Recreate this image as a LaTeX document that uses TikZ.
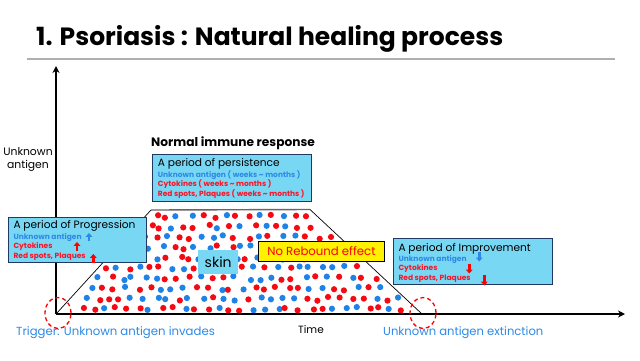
\documentclass[tikz,border=0pt]{standalone}
\usepackage{fontspec}
\setmainfont{Poppins}
\usetikzlibrary{arrows.meta,shapes.geometric}
\definecolor{boxfill}{RGB}{120,216,244}
\definecolor{boxline}{RGB}{31,56,100}
\definecolor{tblue}{RGB}{45,137,230}
\definecolor{tred}{RGB}{250,20,40}
\definecolor{dred}{RGB}{245,10,20}
\definecolor{dblue}{RGB}{30,130,230}
\definecolor{rulegray}{RGB}{175,175,175}
\begin{document}
\begin{tikzpicture}[x=1pt,y=-1pt,
  box/.style={draw=boxline, line width=1.1pt, fill=boxfill, inner sep=0pt, anchor=north west},
  lbl/.style={inner sep=0pt, anchor=base west},
  boxtitle/.style={lbl, font=\fontsize{10.6}{12}\selectfont},
  boxline/.style={lbl, font=\fontsize{7.5}{9}\selectfont\bfseries},
  uparr/.style={line width=2.4pt, -{Triangle[width=6.5pt,length=3.8pt]}},
  axis/.style={line width=1.8pt, -{Stealth[length=7pt,width=7pt]}},
  ring/.style={ellipse, draw=red, dashed, dash pattern=on 4pt off 3pt, line width=1.3pt, minimum width=26pt, minimum height=31pt, inner sep=0pt}]
\useasboundingbox (0,0) rectangle (640,360);
\fill[white] (0,0) rectangle (640,360);
% title
\node[lbl, font=\fontsize{25}{29}\selectfont\bfseries] (title) at (36,45.7) {1. Psoriasis : Natural healing process};
\coordinate (rl) at (27,58.5);
\coordinate (rr) at (615,58.5);
\draw[rulegray, line width=2pt] (rl) -- (rr);
% trapezoid
\coordinate (O) at (56,314);
\coordinate (tl) at (151,210);
\coordinate (tr) at (310,209.5);
\coordinate (br) at (422,314);
\draw[black, line width=0.7pt] (O) -- (tl);
\draw[gray!80!black, line width=1.4pt] (tl) -- (tr);
\draw[black, line width=0.7pt] (tr) -- (br);
% dots
\pgfmathsetseed{23}
\foreach \r in {0,...,9} {
  \foreach \c in {0,...,32} {
    \pgfmathsetmacro{\py}{309-\r*10.28+rand*2}
    \pgfmathsetmacro{\px}{58+\c*11.5+mod(\r,2)*5.75+rand*3.5}
    \pgfmathsetmacro{\lx}{56+(314-\py)*0.9135+5.5}
    \pgfmathsetmacro{\rx}{422-(314-\py)*1.077-5.5}
    \pgfmathtruncatemacro{\ok}{and(\px>\lx,\px<\rx)}
    \pgfmathtruncatemacro{\col}{rnd>0.5}
    \ifnum\ok=1
      \ifnum\col=1 \fill[dred] (\px,\py) circle (3.1pt);\else \fill[dblue] (\px,\py) circle (3.1pt);\fi
    \fi
  }
}
% axes
\coordinate (yt) at (56,66);
\coordinate (xt) at (625,314);
\draw[axis] (O) -- (yt);
\draw[axis] (O) -- (xt);
% axis labels
\node[inner sep=0pt, font=\fontsize{10.8}{12}\selectfont, align=center] (ylab) at (28,159.5) {Unknown\\[1pt]antigen};
\node[inner sep=0pt, font=\fontsize{10.5}{12}\selectfont] (time) at (311,330) {Time};
\node[inner sep=0pt, anchor=west, text=tblue, font=\fontsize{11.7}{13}\selectfont] (trig) at (16,333) {Trigger: Unknown antigen invades};
\node[inner sep=0pt, anchor=west, text=tblue, font=\fontsize{11.6}{13}\selectfont] (ext) at (383,333) {Unknown antigen extinction};
\node[ring] (c1) at (58,313) {};
\node[ring] (c2) at (423,313) {};
% normal immune response
\node[lbl, font=\fontsize{12.2}{14}\selectfont\bfseries] (nir) at (151,146) {Normal immune response};
% persistence box
\node[box, minimum width=158.5pt, minimum height=46.5pt] (pers) at (152,154) {};
\node[boxtitle] (pt) at (157.7,166.5) {A period of persistence};
\node[boxline, text=tblue] (p1) at (157.7,177) {Unknown antigen ( weeks \textasciitilde\ months )};
\node[boxline, text=tred] (p2) at (157.7,186) {Cytokines ( weeks \textasciitilde\ months )};
\node[boxline, text=tred] (p3) at (157.7,196) {Red spots, Plaques ( weeks \textasciitilde\ months )};
% progression box
\node[box, minimum width=138pt, minimum height=45pt] (prog) at (8,217) {};
\node[boxtitle] (gt) at (13.3,228.5) {A period of Progression};
\node[boxline, text=tblue] (g1) at (13.3,239.5) {Unknown antigen};
\node[boxline, text=tred] (g2) at (13.3,248.5) {Cytokines};
\node[boxline, text=tred] (g3) at (13.3,258) {Red spots, Plaques};
\coordinate (ga1) at (89,241); \coordinate (gb1) at (89,233);
\coordinate (ga2) at (77,250.5); \coordinate (gb2) at (77,242);
\coordinate (ga3) at (93.3,263); \coordinate (gb3) at (93.3,254);
\draw[uparr, tblue] (ga1) -- (gb1);
\draw[uparr, red] (ga2) -- (gb2);
\draw[uparr, red] (ga3) -- (gb3);
% improvement box
\node[box, minimum width=159pt, minimum height=46pt] (impr) at (393,238) {};
\node[boxtitle] (it) at (398.3,251) {A period of Improvement};
\node[boxline, text=tblue] (i1) at (398.3,261) {Unknown antigen};
\node[boxline, text=tred] (i2) at (398.3,270.5) {Cytokines};
\node[boxline, text=tred] (i3) at (398.3,280) {Red spots, Plaques};
\coordinate (ia1) at (479.3,251.5); \coordinate (ib1) at (479.3,261.5);
\coordinate (ia2) at (469.3,263.5); \coordinate (ib2) at (469.3,273.5);
\coordinate (ia3) at (484.3,275); \coordinate (ib3) at (484.3,285.5);
\draw[uparr, tblue] (ia1) -- (ib1);
\draw[uparr, red] (ia2) -- (ib2);
\draw[uparr, red] (ia3) -- (ib3);
% no rebound
\node[draw=black, line width=0.9pt, fill=yellow, inner sep=0pt, anchor=north west, minimum width=126pt, minimum height=20pt] (nrb) at (258,241) {};
\node[inner sep=0pt, text=red, font=\fontsize{11.7}{14}\selectfont] (nrbt) at (nrb.center) {No Rebound effect};
% skin
\node[fill=boxfill, inner sep=0pt, anchor=north west, minimum width=40pt, minimum height=24pt] (skinb) at (198,250) {};
\node[inner sep=0pt, font=\fontsize{14}{16}\selectfont] (skint) at (skinb.center) {skin};
\end{tikzpicture}
\end{document}
